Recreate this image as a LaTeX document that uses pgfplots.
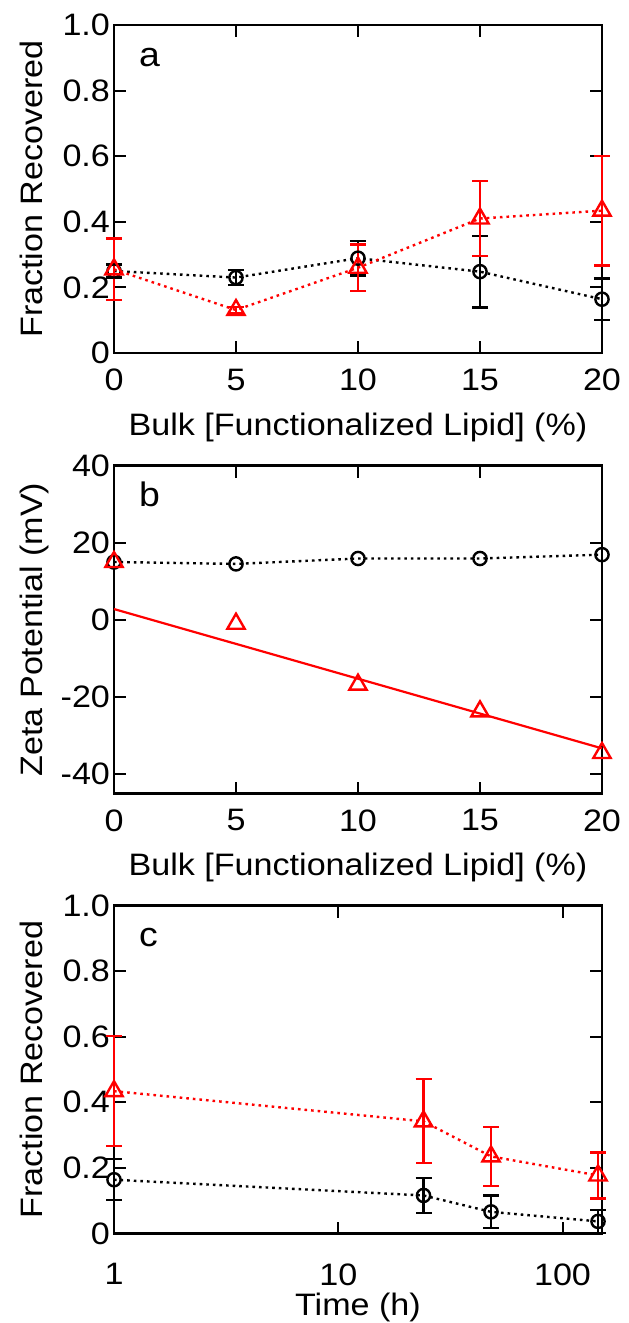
\documentclass[border=0pt]{standalone}
\usepackage{fontspec}
\setmainfont{Liberation Sans}[FakeStretch=1.1]
\usepackage{pgfplots}
\pgfplotsset{compat=1.18}

\definecolor{serA}{RGB}{0,0,0}
\definecolor{serB}{RGB}{255,0,0}

\pgfplotsset{
  panel/.style={
    scale only axis,
    width=244pt, height=164pt,
    anchor=south west,
    axis line style={line width=1.2pt},
    every tick/.style={line width=1pt, black},
    major tick length=6pt,
    tick align=inside,
    /pgf/number format/assume math mode=true,
    tick label style={font=\fontsize{15.5}{18}\selectfont},
    label style={font=\fontsize{15.5}{18}\selectfont},
    yticklabel style={xshift=1.5pt},
    xticklabel style={yshift=-4.5pt},
    ylabel style={at={(axis description cs:-0.1455,0.5)}, anchor=base},
    xlabel style={at={(axis description cs:0.5,-0.25)}, anchor=base},
    clip=false,
  },
  ebars/.style={
    error bars/y dir=both,
    error bars/y explicit,
    error bars/error bar style={solid, line width=1.1pt},
    error bars/error mark options={rotate=90, mark size=4pt, line width=1.1pt, solid},
  },
  dots/.style={line width=1.2pt, dash pattern=on 1.3pt off 2pt},
  circ/.style={mark=o, mark size=3.3pt, mark options={solid, fill=white, line width=1.2pt}},
  tri/.style={mark=triangle, mark size=5pt, mark options={solid, fill=white, line width=1.2pt}},
  blk/.style={serA, dots, circ, ebars},
  red/.style={serB, dots, tri, ebars},
}

\newcommand{\plabel}[1]{\node[anchor=base west, font=\fontsize{17}{20}\selectfont]
  at (axis description cs:0.037,0.875) {#1};}

\begin{document}
\begin{tikzpicture}
\path[use as bounding box] (0,0) rectangle (314pt,-661.5pt);

% (a) recovery versus functionalized lipid content
\begin{axis}[panel, at={(57pt,-176.5pt)},
  xmin=0, xmax=20, ymin=0, ymax=1,
  xtick={0,5,10,15,20},
  ytick={0,0.2,0.4,0.6,0.8,1.0},
  yticklabels={0,0.2,0.4,0.6,0.8,1.0},
  xlabel={Bulk [Functionalized Lipid] (\%)},
  ylabel={Fraction Recovered}]
\addplot[blk] coordinates {
  (0,0.250) +- (0,0.020)
  (5,0.230) +- (0,0.023)
  (10,0.289) +- (0,0.053)
  (15,0.248) +- (0,0.109)
  (20,0.164) +- (0,0.063)
};
\addplot[red] coordinates {
  (0,0.255) +- (0,0.094)
  (5,0.131) +- (0,0.010)
  (10,0.260) +- (0,0.071)
  (15,0.410) +- (0,0.115)
  (20,0.434) +- (0,0.167)
};
\plabel{a}
\end{axis}

% (b) zeta potential
\begin{axis}[panel, at={(57pt,-396.75pt)},
  xmin=0, xmax=20, ymin=-45, ymax=40,
  xtick={0,5,10,15,20},
  ytick={-40,-20,0,20,40},
  yticklabels={-40,-20,0,20,40},
  xlabel={Bulk [Functionalized Lipid] (\%)},
  ylabel={Zeta Potential (mV)}]
\addplot[serA, dots, circ] coordinates {
  (0,15.0) (5,14.5) (10,15.9) (15,15.9) (20,16.9)
};
\addplot[serB, solid, line width=1.1pt] coordinates {(0,2.8) (20,-33.3)};
\addplot[serB, only marks, tri] coordinates {
  (0,15.0) (5,-1.0) (10,-16.8) (15,-23.7) (20,-34.5)
};
\plabel{b}
\end{axis}

% (c) recovery versus time
\begin{axis}[panel, at={(57pt,-616.75pt)},
  xmode=log, xmin=1, xmax=150, ymin=0, ymax=1,
  xminorticks=false,
  xtick={1,10,100}, xticklabels={1,10,100},
  xticklabel style={yshift=-7pt},
  ytick={0,0.2,0.4,0.6,0.8,1.0},
  yticklabels={0,0.2,0.4,0.6,0.8,1.0},
  xlabel={Time (h)},
  ylabel={Fraction Recovered}]
\addplot[blk] coordinates {
  (1,0.164) +- (0,0.063)
  (24,0.116) +- (0,0.053)
  (48,0.066) +- (0,0.050)
  (144,0.037) +- (0,0.035)
};
\addplot[red] coordinates {
  (1,0.434) +- (0,0.167)
  (24,0.342) +- (0,0.128)
  (48,0.235) +- (0,0.090)
  (144,0.177) +- (0,0.070)
};
\plabel{c}
\end{axis}
\end{tikzpicture}
\end{document}
